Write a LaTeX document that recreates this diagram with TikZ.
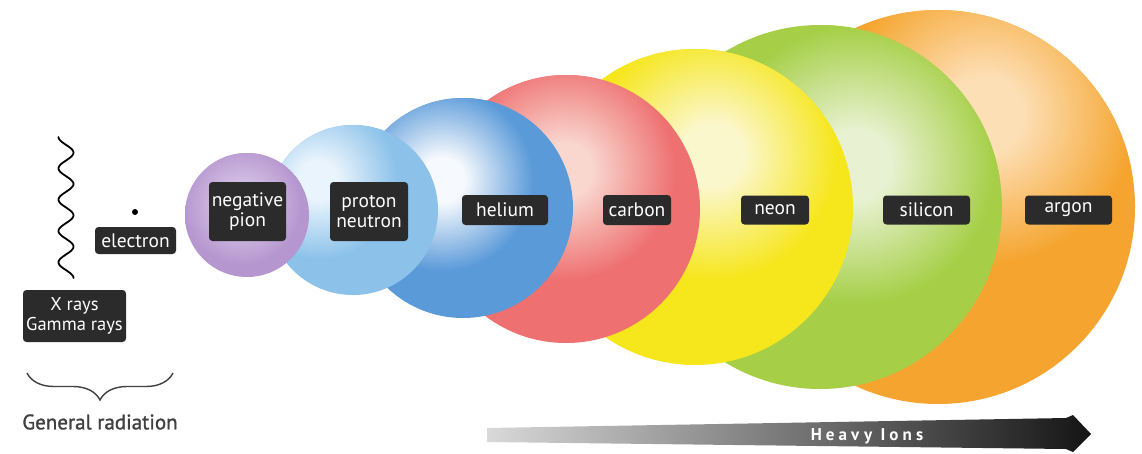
\documentclass[tikz,border=0pt]{standalone}
\usepackage{fontspec}
\setmainfont{PT Sans}
\usetikzlibrary{decorations.pathreplacing}

\definecolor{pionL}{HTML}{D8C7E7}
\definecolor{pionR}{HTML}{B596CF}
\definecolor{protL}{HTML}{E9F4FC}
\definecolor{protR}{HTML}{8CC2EA}
\definecolor{heL}{HTML}{F6F9FD}
\definecolor{heR}{HTML}{5A9AD9}
\definecolor{cL}{HTML}{F9D6CE}
\definecolor{cR}{HTML}{EE7070}
\definecolor{neL}{HTML}{FBF7CC}
\definecolor{neR}{HTML}{F6E61C}
\definecolor{siL}{HTML}{E8F2D2}
\definecolor{siR}{HTML}{A6CF47}
\definecolor{arL}{HTML}{FDDFB6}
\definecolor{arR}{HTML}{F5A52F}
\definecolor{tagc}{HTML}{2C2B2B}
\definecolor{gentext}{HTML}{404040}

\newcommand{\mkhl}[3]{%
  \pgfdeclareradialshading{#1}{\pgfpointorigin}{%
    color(0bp)=(#2); color(6bp)=(#2); color(24bp)=(#3); color(60bp)=(#3)}}
\mkhl{hlPion}{pionL}{pionR}
\mkhl{hlProt}{protL}{protR}
\mkhl{hlHe}{heL}{heR}
\mkhl{hlC}{cL}{cR}
\mkhl{hlNe}{neL}{neR}
\mkhl{hlSi}{siL}{siR}
\mkhl{hlAr}{arL}{arR}

\newfontfamily\heavyfont[LetterSpace=24]{PT Sans Bold}
\newfontfamily\genfont[FakeBold=1.2]{PT Sans}

\tikzset{
  tag/.style={fill=tagc, rounded corners=3.5pt, text=white, inner sep=0pt,
    align=center, font=\fontsize{19.5}{20}\selectfont},
}
% #1 name, #2 centre, #3 radius, #4 rim colour, #5 highlight shading, #6 highlight centre, #7 highlight radius
\newcommand{\sphere}[7]{%
  \node[circle, inner sep=0pt, fill=#4, minimum size=2*#3 pt] (#1) at (#2) {};
  \begin{scope}
    \clip (#1.center) circle[radius=#3];
    \shade[shading=#5] (#6) circle[radius=#7];
  \end{scope}}

\begin{document}
\begin{tikzpicture}[x=1pt,y=-1pt]
\fill[white] (0,0) rectangle (1142,453);
\useasboundingbox (0,0) rectangle (1142,453);

% spheres, back to front
\sphere{argon}{938,207}{197}{arR}{hlAr}{985,115}{155}
\sphere{silicon}{820,207}{182}{siR}{hlSi}{855,165}{145}
\sphere{neon}{695,207}{158}{neR}{hlNe}{712,155}{130}
\sphere{carbon}{566,209}{134}{cR}{hlC}{565,170}{115}
\sphere{helium}{463,208}{110}{heR}{hlHe}{442,180}{95}
\sphere{proton}{353,210}{85}{protR}{hlProt}{318,180}{82}
\sphere{pion}{247,215}{62}{pionR}{hlPion}{242,205}{62}

% labels
\node[tag, minimum width=77pt, minimum height=59pt] (lpion) at (247.5,211.5) {negative\\pion};
\node[tag, minimum width=78pt, minimum height=59pt] (lprot) at (369,211.5) {proton\\neutron};
\node[tag, minimum width=86pt, minimum height=30pt] (lhe) at (505,210) {helium};
\node[tag, minimum width=68pt, minimum height=30pt] (lc) at (637,210) {carbon};
\node[tag, minimum width=68pt, minimum height=29pt] (lne) at (775,210) {neon};
\node[tag, minimum width=87pt, minimum height=29pt] (lsi) at (926.5,210) {silicon};
\node[tag, minimum width=87pt, minimum height=29pt] (lar) at (1068.5,210) {argon};
\node[tag, minimum width=81pt, minimum height=27pt] (lel) at (135.5,240.5) {electron};
\node[tag, minimum width=103pt, minimum height=52pt, font=\fontsize{18.5}{20}\selectfont] (lxr) at (74.5,316) {X rays\\Gamma rays};

% electron dot
\node[circle, fill=black, inner sep=0pt, minimum size=6pt] (edot) at (135,212) {};

% wave (photon)
\draw[line width=1.8pt, line join=round, line cap=round]
  plot[domain=0:141, samples=160, smooth] ({66+7.5*sin(\x/31.33*360-90)}, {137+\x});

% brace
\coordinate (bl) at (27,373);
\coordinate (br) at (173,373);
\draw[gentext, line width=1.4pt, decorate, decoration={brace, mirror, amplitude=27pt}] (bl) -- (br);
\node[text=gentext, font=\genfont\fontsize{21}{22}\selectfont] (gen) at (100,422) {General radiation};

% heavy ions arrow
\shade[left color=black!15, right color=black!92]
  (487,428) -- (1066,418) -- (1073,415) -- (1091,434) -- (1073,452) -- (1066,449) -- (487,442) -- cycle;
\node[text=white, font=\heavyfont\fontsize{17}{18}\selectfont] (heavy) at (867,436) {Heavy Ions};
\end{tikzpicture}
\end{document}
